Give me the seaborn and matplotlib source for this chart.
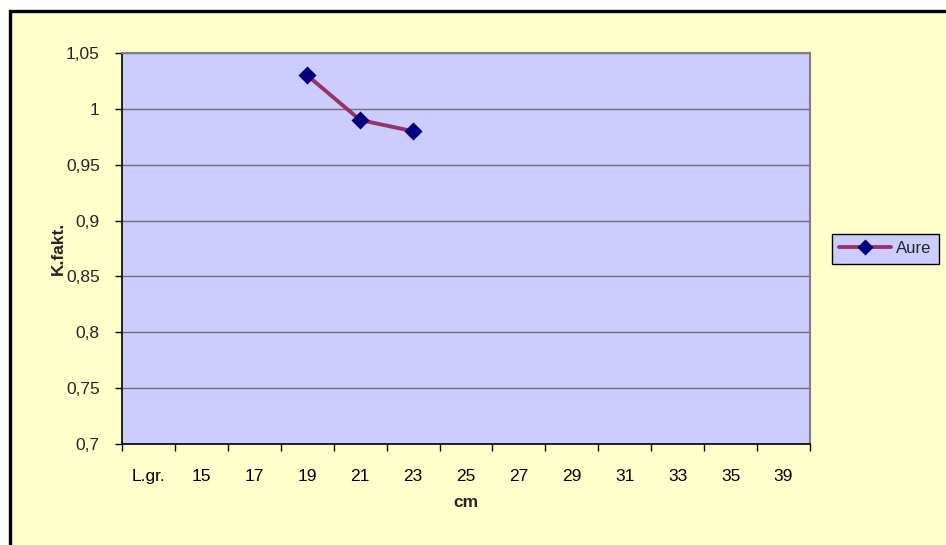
import matplotlib
matplotlib.use("Agg")
import matplotlib.pyplot as plt
from matplotlib.patches import Rectangle
from matplotlib.ticker import FixedLocator, FuncFormatter
import seaborn as sns
import numpy as np
import pandas as pd

categories = ["L.gr.", "15", "17", "19", "21", "23", "25", "27", "29", "31", "33", "35", "39"]
aure = [np.nan, np.nan, np.nan, 1.03, 0.99, 0.98, np.nan, np.nan, np.nan, np.nan, np.nan, np.nan, np.nan]
y_ticks = [0.7, 0.75, 0.8, 0.85, 0.9, 0.95, 1.0, 1.05]
series_name = "Aure"

sns.set_theme(style="white")
plt.rcParams['font.family'] = ['Liberation Sans', 'DejaVu Sans']

W, H = 946, 545
fig = plt.figure(figsize=(W / 100, H / 100), dpi=100)
fig.patch.set_facecolor("white")

# outer chart frame
frame = Rectangle((9.5 / W, -0.2), 1.2, (H - 10.5) / H + 0.2,
                  transform=fig.transFigure, facecolor="#FFFFCC",
                  edgecolor="black", linewidth=2.4, zorder=-10)
fig.patches.append(frame)

ax = fig.add_axes([122 / W, 1 - 444 / H, (810 - 122) / W, (444 - 53) / H])
ax.set_facecolor("#CCCCFF")

df = pd.DataFrame({"cm": categories, "K": aure})
sns.pointplot(data=df, x="cm", y="K", order=categories, ax=ax, color="#993366",
              markers="D", linestyles="-", errorbar=None, label=series_name,
              linewidth=2.8, markersize=7.5)
for ln in ax.lines:
    ln.set_markerfacecolor("#000080")
    ln.set_markeredgecolor("#000080")
    ln.set_zorder(5)

ax.set_xlim(-0.5, len(categories) - 0.5)
ax.set_ylim(0.7, 1.05)
ax.set_yticks(y_ticks)
ax.yaxis.set_major_formatter(FuncFormatter(lambda v, p: ("%g" % round(v, 2)).replace(".", ",")))
ax.yaxis.grid(True, color="#707070", linewidth=1.0)
ax.set_axisbelow(True)

# x ticks: labels at centers, tick marks at boundaries
ax.xaxis.set_minor_locator(FixedLocator(np.arange(-0.5, len(categories), 1.0)))
ax.tick_params(axis="x", which="major", length=0, pad=18, labelsize=12.5, colors="black")
ax.tick_params(axis="x", which="minor", length=5, width=1, color="black", direction="out", bottom=True)
ax.tick_params(axis="y", which="major", length=5, width=1, color="black", direction="out",
               left=True, labelsize=12.5, pad=11)

for side in ["top", "right"]:
    ax.spines[side].set_color("#808080")
    ax.spines[side].set_linewidth(1.5)
for side in ["left", "bottom"]:
    ax.spines[side].set_color("black")
    ax.spines[side].set_linewidth(1.2)

ax.set_xlabel("cm", fontsize=12.5, fontweight="bold", labelpad=8)
ax.set_ylabel("K.fakt.", fontsize=12.5, fontweight="bold", labelpad=0)

leg = ax.get_legend()
if leg is not None:
    leg.remove()
handles, labels = ax.get_legend_handles_labels()
lg = fig.legend(handles[:1], [series_name], loc="center",
                bbox_to_anchor=(885.5 / W, 1 - 248.5 / H), frameon=True, fancybox=False,
                facecolor="#CCCCFF", edgecolor="black", framealpha=1, fontsize=12,
                handlelength=3.1, borderpad=0.45, handletextpad=0.3, borderaxespad=0,
                markerscale=0.75)
lg.get_frame().set_linewidth(1.0)

fig.savefig("out.png", dpi=100, facecolor=fig.get_facecolor())
